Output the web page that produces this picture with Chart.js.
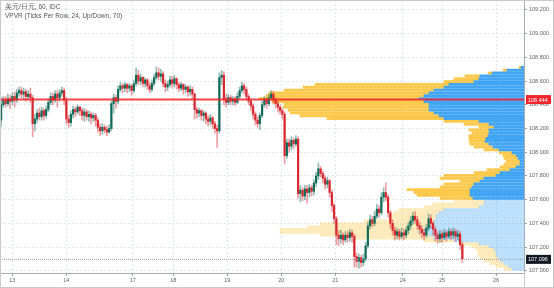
<!DOCTYPE html>
<html>
<head>
<meta charset="utf-8">
<script src="https://cdn.jsdelivr.net/npm/chart.js@4.4.1/dist/chart.umd.min.js"></script>
<style>
  html, body { margin: 0; padding: 0; background: #fff; }
  #wrap { position: relative; width: 554px; height: 288px; }
  .legend { position: absolute; left: 5px; font: 6.5px "Liberation Sans", Arial, sans-serif; color: #555; white-space: nowrap; }
</style>
</head>
<body>
<div id="wrap">
  <canvas id="chart" width="554" height="288"></canvas>
  <div class="legend" style="top:3px">美元/日元, 60, IDC</div>
  <div class="legend" style="top:12px">VPVR (Ticks Per Row, 24, Up/Down, 70)</div>
</div>
<script>
// day labels on the time axis (bar index where each day label sits)
const tickPositions = [5, 29, 58.5, 76.5, 100.5, 124.5, 148.5, 178.5, 196, 220]
const tickLabels = ['13', '14', '17', '18', '19', '20', '21', '24', '25', '26']
const priceTicks = [107.0, 107.2, 107.4, 107.6, 107.8, 108.0, 108.2, 108.4, 108.6, 108.8, 109.0, 109.2]

// hourly candles
const opens = [108.27,108.40,108.44,108.41,108.45,108.43,108.47,108.44,108.50,108.52,
108.49,108.51,108.47,108.49,108.46,108.24,108.28,108.33,108.30,108.35,
108.31,108.36,108.42,108.47,108.44,108.49,108.46,108.50,108.52,108.44,
108.28,108.25,108.32,108.36,108.34,108.38,108.35,108.31,108.34,108.30,
108.32,108.29,108.31,108.27,108.21,108.18,108.21,108.19,108.17,108.20,
108.41,108.46,108.43,108.53,108.56,108.54,108.57,108.54,108.56,108.52,
108.58,108.65,108.60,108.63,108.58,108.61,108.56,108.53,108.58,108.63,
108.67,108.64,108.66,108.58,108.55,108.57,108.61,108.58,108.62,108.57,
108.54,108.57,108.53,108.55,108.51,108.53,108.49,108.36,108.33,108.35,
108.31,108.33,108.28,108.26,108.29,108.24,108.20,108.18,108.63,108.65,
108.45,108.42,108.46,108.43,108.45,108.42,108.47,108.52,108.56,108.53,
108.47,108.43,108.39,108.32,108.27,108.24,108.31,108.40,108.44,108.41,
108.46,108.49,108.44,108.41,108.38,108.35,108.32,107.97,108.08,108.05,
108.10,108.07,108.11,107.65,107.68,107.63,107.69,107.66,107.70,107.67,
107.74,107.80,107.86,107.82,107.78,107.73,107.76,107.66,107.55,107.44,
107.30,107.27,107.30,107.26,107.30,107.28,107.32,107.29,107.12,107.08,
107.11,107.07,107.10,107.21,107.38,107.43,107.40,107.46,107.52,107.49,
107.62,107.66,107.62,107.49,107.40,107.34,107.30,107.33,107.29,107.32,
107.30,107.34,107.38,107.42,107.46,107.43,107.38,107.35,107.32,107.30,
107.36,107.44,107.40,107.35,107.30,107.27,107.31,107.28,107.32,107.29,
107.33,107.30,107.33,107.29,107.31,107.22]
const highs = [108.46,108.47,108.47,108.49,108.48,108.50,108.51,108.53,108.55,108.55,
108.54,108.53,108.52,108.54,108.48,108.32,108.36,108.37,108.38,108.37,
108.39,108.45,108.50,108.50,108.52,108.52,108.53,108.55,108.54,108.46,
108.31,108.35,108.39,108.38,108.40,108.39,108.37,108.37,108.36,108.35,
108.34,108.33,108.33,108.29,108.24,108.24,108.23,108.22,108.23,108.43,
108.49,108.48,108.56,108.59,108.58,108.59,108.58,108.58,108.57,108.61,
108.71,108.69,108.66,108.64,108.63,108.62,108.59,108.61,108.66,108.72,
108.71,108.70,108.68,108.61,108.60,108.64,108.64,108.65,108.63,108.59,
108.59,108.58,108.57,108.56,108.56,108.55,108.50,108.38,108.37,108.36,
108.35,108.34,108.31,108.32,108.30,108.26,108.23,108.67,108.69,108.68,
108.49,108.49,108.48,108.47,108.47,108.50,108.55,108.59,108.58,108.55,
108.49,108.45,108.41,108.34,108.30,108.33,108.43,108.47,108.46,108.49,
108.52,108.51,108.46,108.43,108.40,108.37,108.34,108.11,108.11,108.13,
108.12,108.14,108.13,107.72,107.70,107.72,107.72,107.73,107.72,107.77,
107.83,107.91,107.88,107.84,107.80,107.79,107.77,107.68,107.57,107.46,
107.34,107.34,107.32,107.33,107.33,107.35,107.34,107.31,107.15,107.14,
107.13,107.14,107.24,107.41,107.47,107.46,107.50,107.56,107.55,107.66,
107.70,107.74,107.64,107.51,107.43,107.37,107.36,107.35,107.36,107.35,
107.37,107.41,107.46,107.49,107.50,107.46,107.41,107.38,107.35,107.39,
107.48,107.47,107.42,107.37,107.33,107.34,107.33,107.35,107.34,107.36,
107.35,107.36,107.35,107.34,107.33,107.24]
const lows = [108.22,108.38,108.38,108.39,108.37,108.40,108.38,108.42,108.47,108.46,
108.45,108.43,108.44,108.42,108.13,108.18,108.25,108.27,108.27,108.27,
108.29,108.34,108.40,108.40,108.42,108.38,108.43,108.47,108.40,108.24,
108.21,108.22,108.29,108.30,108.32,108.31,108.27,108.26,108.27,108.26,
108.24,108.26,108.22,108.17,108.14,108.15,108.16,108.14,108.16,108.18,
108.33,108.37,108.41,108.51,108.50,108.51,108.50,108.51,108.48,108.50,
108.56,108.57,108.57,108.55,108.55,108.53,108.50,108.51,108.56,108.61,
108.61,108.60,108.55,108.51,108.52,108.55,108.54,108.55,108.53,108.51,
108.52,108.49,108.50,108.47,108.48,108.45,108.28,108.29,108.30,108.27,
108.26,108.24,108.22,108.23,108.20,108.16,108.04,108.16,108.57,108.40,
108.38,108.40,108.40,108.40,108.39,108.41,108.45,108.50,108.49,108.44,
108.40,108.35,108.28,108.23,108.21,108.19,108.29,108.38,108.37,108.39,
108.44,108.41,108.37,108.34,108.32,108.28,107.90,107.95,108.00,108.02,
108.03,108.05,107.61,107.58,107.59,107.60,107.57,107.62,107.63,107.64,
107.71,107.77,107.79,107.74,107.69,107.70,107.62,107.50,107.40,107.22,
107.21,107.23,107.22,107.24,107.24,107.25,107.24,107.03,107.03,107.02,
107.03,107.04,107.08,107.19,107.35,107.37,107.38,107.44,107.45,107.47,
107.58,107.59,107.45,107.36,107.30,107.26,107.27,107.26,107.27,107.26,
107.28,107.31,107.35,107.39,107.40,107.35,107.31,107.28,107.26,107.28,
107.34,107.36,107.30,107.25,107.23,107.24,107.24,107.26,107.25,107.27,
107.26,107.27,107.25,107.26,107.18,107.07]
const closes = [108.40,108.44,108.41,108.45,108.43,108.47,108.44,108.50,108.52,108.49,
108.51,108.47,108.49,108.46,108.24,108.28,108.33,108.30,108.35,108.31,
108.36,108.42,108.47,108.44,108.49,108.46,108.50,108.52,108.44,108.28,
108.25,108.32,108.36,108.34,108.38,108.35,108.31,108.34,108.30,108.32,
108.29,108.31,108.27,108.21,108.18,108.21,108.19,108.17,108.20,108.41,
108.46,108.43,108.53,108.56,108.54,108.57,108.54,108.56,108.52,108.58,
108.65,108.60,108.63,108.58,108.61,108.56,108.53,108.58,108.63,108.67,
108.64,108.66,108.58,108.55,108.57,108.61,108.58,108.62,108.57,108.54,
108.57,108.53,108.55,108.51,108.53,108.49,108.36,108.33,108.35,108.31,
108.33,108.28,108.26,108.29,108.24,108.20,108.18,108.63,108.65,108.45,
108.42,108.46,108.43,108.45,108.42,108.47,108.52,108.56,108.53,108.47,
108.43,108.39,108.32,108.27,108.24,108.31,108.40,108.44,108.41,108.46,
108.49,108.44,108.41,108.38,108.35,108.32,107.97,108.08,108.05,108.10,
108.07,108.11,107.65,107.68,107.63,107.69,107.66,107.70,107.67,107.74,
107.80,107.86,107.82,107.78,107.73,107.76,107.66,107.55,107.44,107.30,
107.27,107.30,107.26,107.30,107.28,107.32,107.29,107.12,107.08,107.11,
107.07,107.10,107.21,107.38,107.43,107.40,107.46,107.52,107.49,107.62,
107.66,107.62,107.49,107.40,107.34,107.30,107.33,107.29,107.32,107.30,
107.34,107.38,107.42,107.46,107.43,107.38,107.35,107.32,107.30,107.36,
107.44,107.40,107.35,107.30,107.27,107.31,107.28,107.32,107.29,107.33,
107.30,107.33,107.29,107.31,107.22,107.10]

// volume profile rows (row centre price, up volume, down volume)
const rowPrices = [107.012,107.036,107.060,107.084,107.108,107.132,107.156,107.180,107.204,107.228,
107.252,107.276,107.300,107.324,107.348,107.372,107.396,107.420,107.444,107.468,
107.492,107.516,107.540,107.564,107.588,107.612,107.636,107.660,107.684,107.708,
107.732,107.756,107.780,107.804,107.828,107.852,107.876,107.900,107.924,107.948,
107.972,107.996,108.020,108.044,108.068,108.092,108.116,108.140,108.164,108.188,
108.212,108.236,108.260,108.284,108.308,108.332,108.356,108.380,108.404,108.428,
108.452,108.476,108.500,108.524,108.548,108.572,108.596,108.620,108.644,108.668,
108.692,108.716]
const upVolume = [12,16,20,24,26,28,28,30,35,45,
70,90,95,105,100,95,91,90,88,88,
85,80,45,40,40,51,54,54,54,52,
50,44,40,28,24,14,8,4,4,6,
8,12,25,31,35,39,38,36,35,35,
30,35,45,80,85,90,95,95,95,100,
105,100,95,90,80,75,50,45,44,32,
17,3]
const downVolume = [8,12,14,16,18,18,18,18,18,20,
30,80,109,139,144,122,113,70,46,46,
45,45,55,51,30,33,53,56,63,32,
30,20,44,52,26,23,16,16,14,14,
13,13,15,19,19,16,17,19,17,20,
15,25,35,117,139,144,141,146,145,152,
160,158,160,150,141,134,30,25,15,4,
4,2]
const valueAreaLow = 107.60
const pocPrice = 108.444
const lastPrice = 107.096

const X_MIN = -0.5
const X_MAX = 232.4
const Y_MIN = 106.981
const Y_MAX = 109.284
const FONT = '"Liberation Sans", Arial, sans-serif'

const $ctx = document.getElementById('chart')

const isUp = (c) => closes[c.dataIndex] >= opens[c.dataIndex]
const inValueArea = (c) => c.raw && c.raw.y >= valueAreaLow

const noEdgePadding = (axis) => {
    axis.paddingTop = 0
    axis.paddingBottom = 0
    axis.paddingLeft = 0
    axis.paddingRight = 0
}

const priceTags = {
    id: 'priceTags',
    afterDraw(chart) {
        const { ctx, chartArea, scales: { y } } = chart
        const tag = (value, bg) => {
            const py = y.getPixelForValue(value)
            ctx.save()
            ctx.fillStyle = bg
            ctx.fillRect(chartArea.right + 2, py - 4.5, 25, 9)
            ctx.fillStyle = '#fff'
            ctx.font = '5.5px ' + FONT
            ctx.textBaseline = 'middle'
            ctx.fillText(value.toFixed(3), chartArea.right + 4, py + 0.5)
            ctx.restore()
        }
        tag(pocPrice, '#f2242c')
        tag(lastPrice, '#131722')
        ctx.save()
        ctx.strokeStyle = '#c9c9c9'
        ctx.lineWidth = 1
        ctx.strokeRect(0.5, 0.5, chart.width - 1, chart.height - 1)
        ctx.beginPath()
        ctx.moveTo(Math.round(chartArea.right) + 0.5, chartArea.bottom)
        ctx.lineTo(Math.round(chartArea.right) + 0.5, chart.height)
        ctx.stroke()
        ctx.restore()
    }
}

new Chart($ctx, {
    type: 'bar',
    data: {
        datasets: [
            {
                type: 'line',
                data: [{ x: X_MIN, y: pocPrice }, { x: X_MAX, y: pocPrice }],
                xAxisID: 'x', yAxisID: 'y',
                borderColor: 'rgba(242,36,44,0.85)', borderWidth: 2,
                pointRadius: 0, order: 0
            },
            {
                type: 'line',
                data: [{ x: X_MIN, y: lastPrice }, { x: X_MAX, y: lastPrice }],
                xAxisID: 'x', yAxisID: 'y',
                borderColor: '#9a9ca3', borderWidth: 1, borderDash: [1, 1],
                pointRadius: 0, order: 1
            },
            {
                data: opens.map((o, i) => ({ x: i, y: [o, closes[i]] })),
                xAxisID: 'x', yAxisID: 'y',
                backgroundColor: c => isUp(c) ? '#0d6b58' : '#d8262f',
                barThickness: 1.5, minBarLength: 1, grouped: false, order: 2
            },
            {
                data: lows.map((l, i) => ({ x: i, y: [l, highs[i]] })),
                xAxisID: 'x', yAxisID: 'y',
                backgroundColor: c => isUp(c) ? 'rgba(13,107,88,0.45)' : 'rgba(216,38,47,0.45)',
                barThickness: 1, grouped: false, order: 3
            },
            {
                indexAxis: 'y',
                data: rowPrices.map((p, k) => ({ x: [0, upVolume[k]], y: p })),
                xAxisID: 'xv', yAxisID: 'y',
                backgroundColor: c => inValueArea(c) ? 'rgba(33,150,243,0.85)' : 'rgba(33,150,243,0.3)',
                barThickness: 2.2, grouped: false, order: 5
            },
            {
                indexAxis: 'y',
                data: rowPrices.map((p, k) => ({ x: [upVolume[k], upVolume[k] + downVolume[k]], y: p })),
                xAxisID: 'xv', yAxisID: 'y',
                backgroundColor: c => inValueArea(c) ? 'rgba(251,192,45,0.85)' : 'rgba(251,192,45,0.32)',
                barThickness: 2.2, grouped: false, order: 5
            }
        ]
    },
    options: {
        responsive: false,
        animation: false,
        events: [],
        layout: { padding: 0 },
        plugins: { legend: { display: false }, tooltip: { enabled: false } },
        scales: {
            x: {
                type: 'linear', position: 'bottom', bounds: 'data', min: X_MIN, max: X_MAX, offset: false,
                afterBuildTicks: axis => { axis.ticks = tickPositions.map(v => ({ value: v })) },
                afterFit: axis => { axis.height = 15; noEdgePadding(axis) },
                ticks: {
                    autoSkip: false, maxRotation: 0, padding: 1,
                    color: '#5d606b', font: { size: 5.5, family: FONT },
                    callback: (v, i) => tickLabels[i]
                },
                grid: { color: '#dfe5ee', tickLength: 3, tickColor: '#9a9ca3', offset: false },
                border: { color: '#a9abb2', dash: [2, 2] }
            },
            y: {
                type: 'linear', position: 'right', bounds: 'data', min: Y_MIN, max: Y_MAX,
                offset: false, beginAtZero: false,
                afterBuildTicks: axis => { axis.ticks = priceTicks.map(v => ({ value: v })) },
                afterFit: axis => { axis.width = 30; noEdgePadding(axis) },
                ticks: {
                    padding: 2, color: '#5d606b', font: { size: 5.5, family: FONT },
                    callback: v => v.toFixed(3)
                },
                grid: { color: '#dfe5ee', tickLength: 3, tickColor: '#9a9ca3', offset: false },
                border: { color: '#a9abb2', dash: [2, 2] }
            },
            xv: {
                type: 'linear', display: false, bounds: 'data', reverse: true,
                min: 0, max: 524, offset: false, beginAtZero: false
            }
        }
    },
    plugins: [priceTags]
})
</script>
</body>
</html>
